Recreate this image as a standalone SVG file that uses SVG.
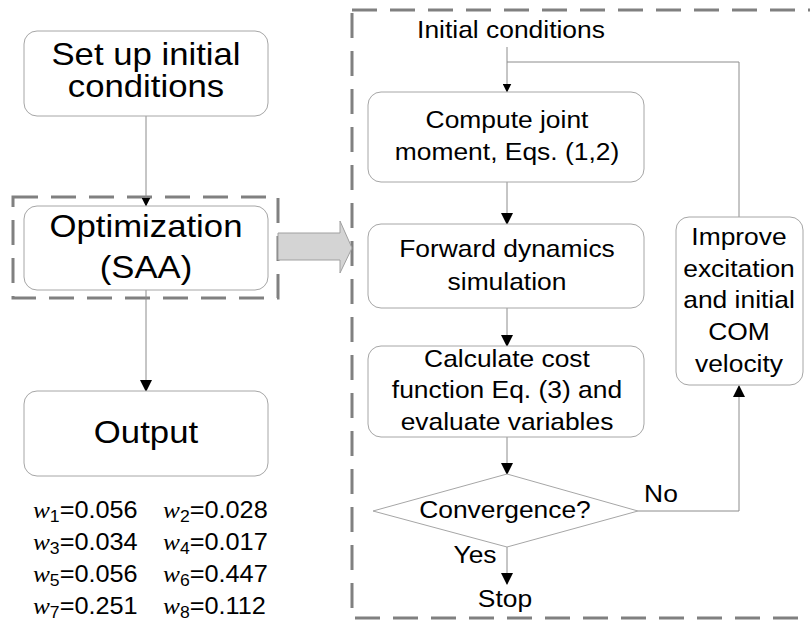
<svg xmlns="http://www.w3.org/2000/svg" width="810" height="625" viewBox="0 0 810 625">
  <defs>
    <style>
      .box { fill: #ffffff; stroke: #a6a6a6; stroke-width: 1; }
      .frame { fill: none; stroke: #808080; stroke-width: 3; stroke-dasharray: 25 13; }
      .link { fill: none; stroke: #8c8c8c; stroke-width: 1; }
      .big { font-family: "Liberation Sans", Arial, sans-serif; font-size: 31px; fill: #000; text-anchor: middle; }
      .lbl { font-family: "Liberation Sans", Arial, sans-serif; font-size: 24px; fill: #000; text-anchor: middle; }
      .wt { font-family: "Liberation Sans", Arial, sans-serif; font-size: 23px; fill: #000; }
      .wv { font-family: "Liberation Serif", "Times New Roman", serif; font-style: italic; }
      .sub { font-size: 16px; }
    </style>
    <marker id="arrow" markerWidth="12" markerHeight="12" refX="11" refY="6" orient="auto" markerUnits="userSpaceOnUse">
      <path d="M0,0 L12,6 L0,12 Z" fill="#000"/>
    </marker>
    <marker id="arrowSmall" markerWidth="9" markerHeight="9" refX="8.5" refY="4.5" orient="auto" markerUnits="userSpaceOnUse">
      <path d="M0,0 L9,4.5 L0,9 Z" fill="#000"/>
    </marker>
  </defs>

  <!-- dashed frames -->
  <rect class="frame" x="13" y="197" width="265" height="101"/>
  <rect class="frame" x="352" y="10" width="470" height="608"/>

  <!-- connectors -->
  <g id="connectors">
    <line class="link" x1="146" y1="116" x2="146" y2="206" marker-end="url(#arrowSmall)"/>
    <line class="link" x1="146" y1="290" x2="146" y2="391" marker-end="url(#arrow)"/>
    <line class="link" x1="507" y1="47" x2="507" y2="92" marker-end="url(#arrowSmall)"/>
    <polyline class="link" points="507,62 739,62 739,217"/>
    <line class="link" x1="507" y1="182" x2="507" y2="224" marker-end="url(#arrow)"/>
    <line class="link" x1="507" y1="308" x2="507" y2="346" marker-end="url(#arrow)"/>
    <line class="link" x1="507" y1="437" x2="507" y2="474" marker-end="url(#arrow)"/>
    <polyline class="link" points="638,511 739,511 739,386" marker-end="url(#arrow)"/>
    <line class="link" x1="507" y1="547" x2="507" y2="584" marker-end="url(#arrow)"/>
    <!-- block arrow into the detail frame -->
    <path d="M278,233 L340,233 L340,221 L352,248 L340,273 L340,260 L278,260 Z" fill="#d4d4d4" stroke="#a0a0a0" stroke-width="1"/>
  </g>

  <!-- left column (labels widened slightly around the column centre x=146) -->
  <g id="setup">
    <rect class="box" x="24" y="31" width="244" height="85" rx="13"/>
    <g transform="matrix(1.12 0 0 1 -17.52 0)">
      <text class="big" x="146" y="65">Set up initial</text>
      <text class="big" x="146" y="97">conditions</text>
    </g>
  </g>
  <g id="optimization">
    <rect class="box" x="24" y="206" width="244" height="84" rx="13"/>
    <g transform="matrix(1.12 0 0 1 -17.52 0)">
      <text class="big" x="146" y="237">Optimization</text>
      <text class="big" x="146" y="278">(SAA)</text>
    </g>
  </g>
  <g id="output">
    <rect class="box" x="24" y="391" width="244" height="85" rx="13"/>
    <g transform="matrix(1.12 0 0 1 -17.52 0)">
      <text class="big" x="146" y="443">Output</text>
    </g>
  </g>
  <g id="weights" class="wt" transform="matrix(1.1 0 0 1 -3.3 0)">
    <text x="33" y="518"><tspan class="wv">w</tspan><tspan class="sub" dy="4">1</tspan><tspan dy="-4">=0.056</tspan></text>
    <text x="151.2" y="518"><tspan class="wv">w</tspan><tspan class="sub" dy="4">2</tspan><tspan dy="-4">=0.028</tspan></text>
    <text x="33" y="550"><tspan class="wv">w</tspan><tspan class="sub" dy="4">3</tspan><tspan dy="-4">=0.034</tspan></text>
    <text x="151.2" y="550"><tspan class="wv">w</tspan><tspan class="sub" dy="4">4</tspan><tspan dy="-4">=0.017</tspan></text>
    <text x="33" y="582"><tspan class="wv">w</tspan><tspan class="sub" dy="4">5</tspan><tspan dy="-4">=0.056</tspan></text>
    <text x="151.2" y="582"><tspan class="wv">w</tspan><tspan class="sub" dy="4">6</tspan><tspan dy="-4">=0.447</tspan></text>
    <text x="33" y="614"><tspan class="wv">w</tspan><tspan class="sub" dy="4">7</tspan><tspan dy="-4">=0.251</tspan></text>
    <text x="151.2" y="614"><tspan class="wv">w</tspan><tspan class="sub" dy="4">8</tspan><tspan dy="-4">=0.112</tspan></text>
  </g>

  <!-- detail loop -->
  <g id="initial">
    <g transform="matrix(1.1 0 0 1 -51.1 0)">
      <text class="lbl" x="511" y="38">Initial conditions</text>
    </g>
  </g>
  <g id="compute">
    <rect class="box" x="368" y="92" width="276" height="90" rx="13"/>
    <g transform="matrix(1.1 0 0 1 -50.7 0)">
      <text class="lbl" x="507" y="128">Compute joint</text>
      <text class="lbl" x="507" y="160">moment, Eqs. (1,2)</text>
    </g>
  </g>
  <g id="forward">
    <rect class="box" x="368" y="224" width="276" height="84" rx="13"/>
    <g transform="matrix(1.1 0 0 1 -50.7 0)">
      <text class="lbl" x="507" y="257">Forward dynamics</text>
      <text class="lbl" x="507" y="290">simulation</text>
    </g>
  </g>
  <g id="cost">
    <rect class="box" x="368" y="346" width="276" height="91" rx="13"/>
    <g transform="matrix(1.1 0 0 1 -50.7 0)">
      <text class="lbl" x="507" y="367">Calculate cost</text>
      <text class="lbl" x="507" y="398">function Eq. (3) and</text>
      <text class="lbl" x="507" y="430">evaluate variables</text>
    </g>
  </g>
  <g id="convergence">
    <polygon class="box" points="507,474 638,511 507,547 373,511"/>
    <g transform="matrix(1.1 0 0 1 -50.5 0)">
      <text class="lbl" x="505" y="518">Convergence?</text>
    </g>
  </g>
  <g id="improve">
    <rect class="box" x="676" y="217" width="127" height="168" rx="13"/>
    <g transform="matrix(1.1 0 0 1 -73.9 0)">
      <text class="lbl" x="739" y="245">Improve</text>
      <text class="lbl" x="739" y="277">excitation</text>
      <text class="lbl" x="739" y="308">and initial</text>
      <text class="lbl" x="739" y="340">COM</text>
      <text class="lbl" x="739" y="372">velocity</text>
    </g>
  </g>
  <g id="no-label">
    <g transform="matrix(1.1 0 0 1 -66.1 0)">
      <text class="lbl" x="661" y="502">No</text>
    </g>
  </g>
  <g id="yes-label">
    <g transform="matrix(1.1 0 0 1 -47.5 0)">
      <text class="lbl" x="475" y="563">Yes</text>
    </g>
  </g>
  <g id="stop">
    <g transform="matrix(1.1 0 0 1 -50.5 0)">
      <text class="lbl" x="505" y="607">Stop</text>
    </g>
  </g>
</svg>
